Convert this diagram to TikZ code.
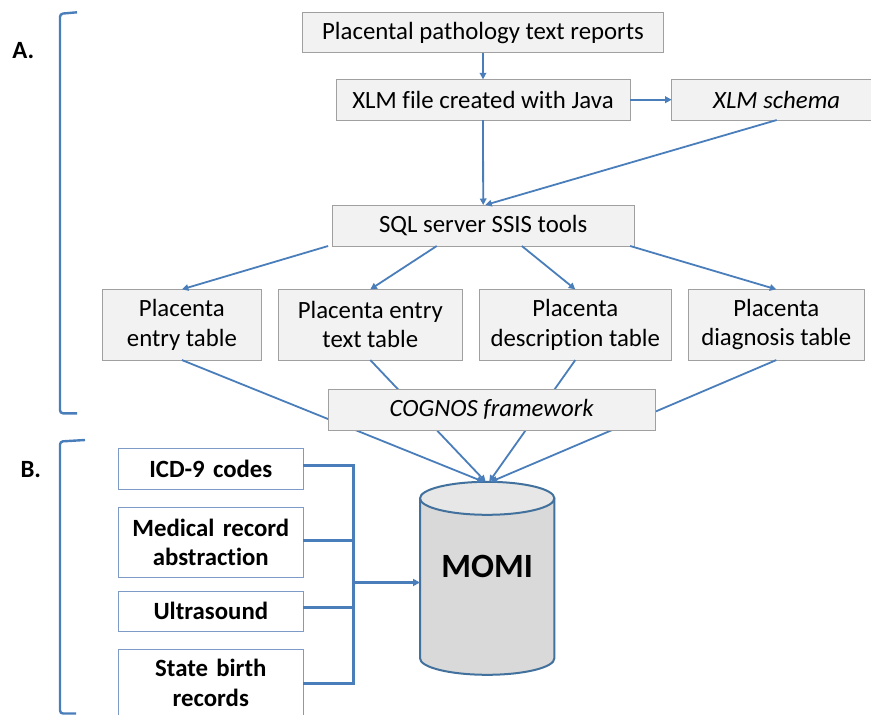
\documentclass[tikz,border=0pt]{standalone}
\usepackage{fontspec}
\setmainfont{Carlito}[Ligatures=NoCommon]
\usetikzlibrary{arrows.meta,calc}

\definecolor{linkblue}{RGB}{74,126,187}
\definecolor{boxfill}{RGB}{242,242,242}
\definecolor{boxedge}{RGB}{160,160,160}
\definecolor{srcedge}{RGB}{126,154,199}
\definecolor{dbedge}{RGB}{65,113,156}
\definecolor{dbbody}{RGB}{217,217,217}
\definecolor{dbtop}{RGB}{231,231,231}

\begin{document}
\begin{tikzpicture}[x=1pt,y=1pt,
  every node/.style={inner sep=0pt, outer sep=0pt, align=center,
    font=\fontsize{24.8}{29.5}\selectfont},
  procbox/.style={draw=boxedge, fill=boxfill, line width=0.9pt},
  srcbox/.style={draw=srcedge, fill=white, line width=1.1pt,
    font=\fontsize{24.8}{29.5}\selectfont\bfseries,
    minimum width=185, text width=182},
  link/.style={draw=linkblue, line width=1.8pt,
    -{Triangle[length=6.5pt,width=6.5pt]}},
  bus/.style={draw=linkblue, line width=3pt},
  busarrow/.style={draw=linkblue, line width=2.3pt,
    -{Triangle[length=7pt,width=7pt]}},
  bracket/.style={draw=linkblue, line width=2.4pt, rounded corners=3pt},
  tag/.style={font=\fontsize{24.8}{29.5}\selectfont\bfseries}
]
\useasboundingbox (0,0) rectangle (871,-715);
\clip (0,0) rectangle (871,-715);

% section brackets and labels
\draw[bracket] (77,-12.3) -- (60,-13.8) -- (60,-413.3) -- (77,-413.3);
\draw[bracket] (85,-440) -- (60,-441.5) -- (60,-713.5) -- (76,-713.5);
\node[tag] (labA) at (23.3,-50.8) {A.};
\node[tag] (labB) at (30.8,-469.5) {B.};

% processing chain
\node[procbox, minimum width=360.6, minimum height=40] (rep) at (483,-32.7)
  {Placental pathology text reports};
\node[procbox, minimum width=294, minimum height=40.7] (xml) at (483,-99.7)
  {XLM file created with Java};
\node[procbox, minimum width=210, minimum height=40.7] (schema) at (776.7,-99.7)
  {\itshape XLM schema};
\node[procbox, minimum width=301.7, minimum height=41] (sql) at (483.2,-225.5)
  {SQL server SSIS tools};

\node[procbox, minimum width=159.7, minimum height=70.7] (t1) at (181.9,-324.7)
  {Placenta\\entry table};
\node[procbox, minimum width=184, minimum height=70.7] (t2) at (370.3,-324.7)
  {Placenta entry\\text table};
\node[procbox, minimum width=192.7, minimum height=70.7] (t3) at (575.3,-324.7)
  {Placenta\\description table};
\node[procbox, minimum width=176, minimum height=70.7] (t4) at (776.3,-324.7)
  {Placenta\\diagnosis table};

\draw[link] (rep.south) -- (xml.north);
\draw[link] (xml.east) -- (schema.west);
\draw[link] (xml.south) -- (sql.north);
\draw[link] (schema.south) -- ($(sql.north)+(2,0)$);

\draw[link] ($(sql.south west)!-0.014!(sql.south east)$) -- (t1.north);
\draw[link] ($(sql.south west)!0.346!(sql.south east)$) -- (t2.north);
\draw[link] ($(sql.south west)!0.628!(sql.south east)$) -- (t3.north);
\draw[link] ($(sql.south west)!0.987!(sql.south east)$) -- (t4.north);

% MOMI database
\coordinate (momitop) at (487.2,-481.8);
\coordinate (momiwest) at (420,-582.5);
\path[fill=dbbody] (420,-498.3) -- (420,-658.3)
  arc[start angle=180, end angle=360, x radius=67.2pt, y radius=16.5pt]
  -- (554.4,-498.3) -- cycle;
\draw[dbedge, line width=2pt] (420,-498.3) -- (420,-658.3)
  arc[start angle=180, end angle=360, x radius=67.2pt, y radius=16.5pt]
  -- (554.4,-498.3);
\draw[dbedge, line width=2pt, fill=dbtop] (487.2,-498.3)
  ellipse[x radius=67.2pt, y radius=16.5pt];
\node[font=\fontsize{34}{40}\selectfont\bfseries] (momi) at (487.2,-566.7) {MOMI};

% table outputs gathered through COGNOS into MOMI
\draw[link] (t1.south) -- ($(momitop)+(-3.5,0)$);
\draw[link] (t2.south) -- ($(momitop)+(-1.5,0)$);
\draw[link] (t3.south) -- ($(momitop)+(2,0)$);
\draw[link] (t4.south) -- ($(momitop)+(3.5,0)$);
\node[procbox, minimum width=326.7, minimum height=41] (cog) at (491.7,-409.8)
  {\itshape COGNOS framework};

% additional sources
\node[srcbox, minimum height=41] (icd) at (210.8,-468.8) {ICD-9 codes};
\node[srcbox, minimum height=70.4] (med) at (210.8,-542.5) {Medical record\\abstraction};
\node[srcbox, minimum height=40.3] (ult) at (210.8,-611.2) {Ultrasound};
\node[srcbox, minimum height=67] (sbr) at (210.8,-682.8) {State birth\\records};

% bus joining the sources
\coordinate (jt) at (353.3,-465);
\coordinate (jb) at (353.3,-683.3);
\coordinate (icdout) at ($(icd.east)+(0,3.8)$);
\coordinate (medout) at ($(med.east)+(0,2.5)$);
\coordinate (ultout) at ($(ult.east)+(0,3.5)$);
\coordinate (sbrout) at ($(sbr.east)+(0,-0.5)$);
\draw[bus] (icdout) -- (jt) -- (jb) -- (sbrout);
\draw[bus] (medout) -- (medout -| jt);
\draw[bus] (ultout) -- (ultout -| jt);
\draw[busarrow] (momiwest -| jt) -- (momiwest);
\end{tikzpicture}
\end{document}
